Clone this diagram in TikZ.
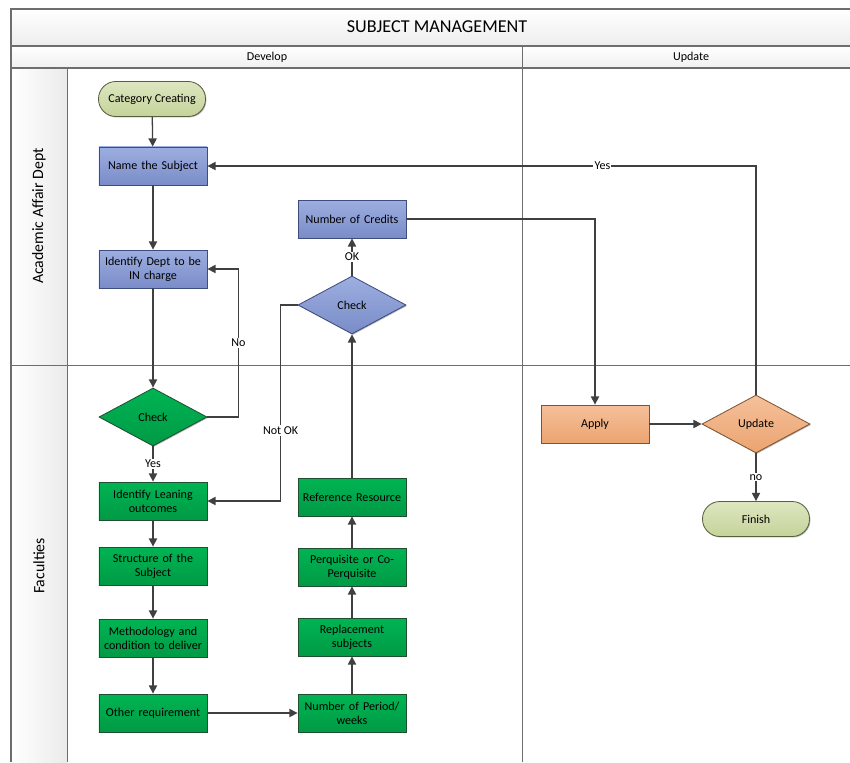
\documentclass[tikz,border=0pt]{standalone}
\usepackage{fontspec}
\setmainfont{Carlito}
\usetikzlibrary{positioning,arrows.meta,shapes.geometric,shadows}

\definecolor{blueA}{HTML}{9DAEE0}
\definecolor{blueB}{HTML}{7A8CC8}
\definecolor{blueLine}{HTML}{3E4C7E}
\definecolor{greenA}{HTML}{00B453}
\definecolor{greenB}{HTML}{009A45}
\definecolor{greenLine}{HTML}{1F4F30}
\definecolor{orangeA}{HTML}{F5C09A}
\definecolor{orangeB}{HTML}{EBA470}
\definecolor{orangeLine}{HTML}{80532F}
\definecolor{oliveA}{HTML}{DDE6C0}
\definecolor{oliveB}{HTML}{C5D39A}
\definecolor{oliveLine}{HTML}{55603C}
\definecolor{arrowGray}{HTML}{404040}
\definecolor{frameGray}{HTML}{6E6E6E}

\begin{document}
\begin{tikzpicture}[
  x=0.03cm, y=-0.03cm,
  every node/.style={font=\fontsize{10.3}{11.8}\selectfont},
  task/.style={draw, line width=0.7pt, text width=3cm, inner sep=0.12cm, align=center, minimum height=1.14cm,
    drop shadow={shadow xshift=0.8pt, shadow yshift=-0.8pt, fill=black, opacity=0.3}},
  decide/.style={draw, diamond, line width=0.7pt, aspect=1.86, inner sep=0pt, minimum width=3.24cm, minimum height=1.74cm,
    drop shadow={shadow xshift=0.8pt, shadow yshift=-0.8pt, fill=black, opacity=0.3}},
  term/.style={draw, rounded corners=0.52cm, line width=0.7pt, minimum width=3.21cm, minimum height=1.05cm,
    drop shadow={shadow xshift=0.8pt, shadow yshift=-0.8pt, fill=black, opacity=0.3}},
  bluish/.style={draw=blueLine, top color=blueA, bottom color=blueB},
  greenish/.style={draw=greenLine, top color=greenA, bottom color=greenB},
  orangish/.style={draw=orangeLine, top color=orangeA, bottom color=orangeB},
  olive/.style={draw=oliveLine, top color=oliveA, bottom color=oliveB},
  flow/.style={draw=arrowGray, line width=1.1pt, -{Triangle[length=7pt, width=7pt]}},
  lbl/.style={fill=white, inner sep=1pt},
  lane/.style={rotate=90, font=\fontsize{13.5}{16}\selectfont},
  frame/.style={draw=frameGray, line width=0.8pt}
]
\useasboundingbox (0,0) rectangle (850,762);

% Pool frame
\shade[top color=white, bottom color=gray!14] (11,9) rectangle (850,46);
\shade[top color=white, bottom color=gray!12] (11,46) rectangle (850,68);
\shade[left color=white, right color=gray!16] (11,68) rectangle (67,762);
\draw[frame, line width=1.3pt] (850,9) -- (11,9) -- (11,762);
\draw[frame, line width=1.1pt] (11,46) -- (850,46);
\draw[frame, line width=1.1pt] (11,68) -- (850,68);
\draw[frame] (67,68) -- (67,762);
\draw[frame] (11,365) -- (850,365);
\draw[frame] (522,46) -- (522,762);

% Titles and lane names
\node[font=\fontsize{15.5}{18}\selectfont] (title) at (437,27) {SUBJECT MANAGEMENT};
\node (develop) at (267,57) {Develop};
\node (update) at (691,57) {Update};
\node[lane] (academic) at (39,216) {Academic Affair Dept};
\node[lane] (faculties) at (39,566) {Faculties};

% Left column
\node[term, olive] (cat) at (152,99) {Category Creating};
\node[task, bluish] (name) at (153,166) {Name the Subject};
\node[task, bluish] (dept) at (153,269) {Identify Dept to be\\IN charge};
\node[decide, greenish] (chk1) at (153,417) {Check};
\node[task, greenish] (learn) at (153,501) {Identify Leaning\\outcomes};
\node[task, greenish] (struct) at (153,566) {Structure of the\\Subject};
\node[task, greenish] (method) at (153,638) {Methodology and\\condition to deliver};
\node[task, greenish] (other) at (153,713) {Other requirement};

% Middle column
\node[task, greenish] (period) at (352,713) {Number of Period/\\weeks};
\node[task, greenish] (replace) at (352,637) {Replacement\\subjects};
\node[task, greenish] (perq) at (352,567) {Perquisite or Co-\\Perquisite};
\node[task, greenish] (refres) at (352,497) {Reference Resource};
\node[decide, bluish] (chk2) at (352,305) {Check};
\node[task, bluish] (credits) at (352,219) {Number of Credits};

% Update column
\node[task, orangish] (apply) at (595,424) {Apply};
\node[decide, orangish] (upd) at (756,424) {Update};
\node[term, olive] (finish) at (756,519) {Finish};

% Arrows
\draw[flow] (cat) -- (name);
\draw[flow] (name) -- (dept);
\draw[flow] (dept) -- (chk1);
\draw[flow] (chk1.east) -- ++(31,0) |- node[lbl, pos=0.25] {No} (dept.east);
\draw[flow] (chk1) -- node[lbl] {Yes} (learn);
\draw[flow] (learn) -- (struct);
\draw[flow] (struct) -- (method);
\draw[flow] (method) -- (other);
\draw[flow] (other) -- (period);
\draw[flow] (period) -- (replace);
\draw[flow] (replace) -- (perq);
\draw[flow] (perq) -- (refres);
\draw[flow] (refres) -- (chk2);
\draw[flow] (chk2.west) -- ++(-17,0) |- node[lbl, pos=0.32] {Not OK} (learn.east);
\draw[flow] (chk2) -- node[lbl] {OK} (credits);
\draw[flow] (credits.east) -| (apply.north);
\draw[flow] (apply) -- (upd);
\draw[flow] (upd.north) |- node[lbl, pos=0.64] {Yes} (name.east);
\draw[flow] (upd) -- node[lbl] {no} (finish);
\end{tikzpicture}
\end{document}
